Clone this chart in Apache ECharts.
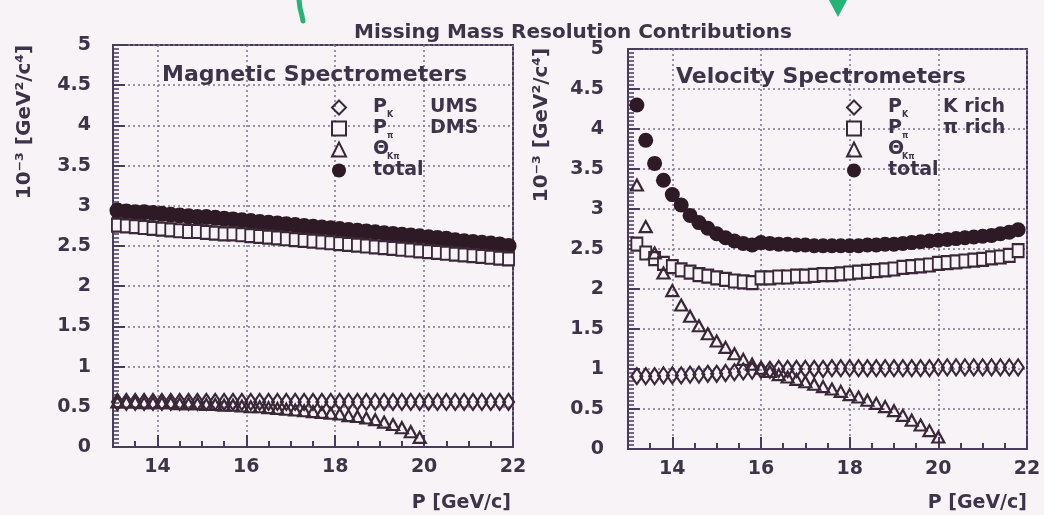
<!DOCTYPE html>
<html>
<head>
<meta charset="utf-8">
<script src="https://cdn.jsdelivr.net/npm/echarts@6/dist/echarts.min.js"></script>
<style>
html,body{margin:0;padding:0;background:#f7f3f6;}
#chart{width:1044px;height:515px;}
</style>
</head>
<body>
<div id="chart"></div>
<script>
// ---------- data ----------
const xTickLabels = [14, 16, 18, 20, 22];

// Magnetic spectrometers (left panel)
const xMag = [13.1,13.3,13.5,13.7,13.9,14.1,14.3,14.5,14.7,14.9,15.1,15.3,15.5,15.7,15.9,16.1,16.3,16.5,16.7,16.9,17.1,17.3,17.5,17.7,17.9,18.1,18.3,18.5,18.7,18.9,19.1,19.3,19.5,19.7,19.9,20.1,20.3,20.5,20.7,20.9,21.1,21.3,21.5,21.7,21.9];
const magTotal = [2.94,2.93,2.92,2.92,2.91,2.90,2.89,2.88,2.87,2.86,2.86,2.85,2.84,2.83,2.82,2.81,2.80,2.79,2.78,2.77,2.76,2.75,2.74,2.73,2.72,2.71,2.70,2.69,2.68,2.67,2.66,2.65,2.64,2.63,2.62,2.61,2.60,2.59,2.57,2.56,2.55,2.54,2.53,2.52,2.50];
const magPpiDMS = [2.76,2.75,2.74,2.73,2.72,2.71,2.70,2.69,2.68,2.68,2.67,2.66,2.65,2.65,2.64,2.63,2.62,2.61,2.60,2.59,2.58,2.57,2.56,2.55,2.54,2.53,2.52,2.51,2.50,2.49,2.48,2.47,2.46,2.45,2.44,2.43,2.42,2.41,2.40,2.39,2.38,2.37,2.36,2.35,2.34];
const magPkUMS = [0.56,0.56,0.56,0.56,0.56,0.56,0.56,0.56,0.56,0.56,0.56,0.56,0.56,0.56,0.56,0.56,0.56,0.56,0.56,0.56,0.56,0.56,0.56,0.56,0.56,0.56,0.56,0.56,0.56,0.56,0.56,0.56,0.56,0.56,0.56,0.56,0.56,0.56,0.56,0.56,0.56,0.56,0.56,0.56,0.56];
const magTheta = [0.56,0.56,0.56,0.55,0.55,0.55,0.55,0.54,0.54,0.54,0.53,0.53,0.52,0.52,0.51,0.50,0.50,0.49,0.48,0.47,0.46,0.45,0.44,0.43,0.42,0.41,0.39,0.38,0.36,0.34,0.31,0.28,0.24,0.19,0.12];

// Velocity spectrometers (right panel)
const xVel = [13.2,13.4,13.6,13.8,14.0,14.2,14.4,14.6,14.8,15.0,15.2,15.4,15.6,15.8,16.0,16.2,16.4,16.6,16.8,17.0,17.2,17.4,17.6,17.8,18.0,18.2,18.4,18.6,18.8,19.0,19.2,19.4,19.6,19.8,20.0,20.2,20.4,20.6,20.8,21.0,21.2,21.4,21.6,21.8];
const velTotal = [4.30,3.86,3.57,3.36,3.18,3.05,2.92,2.83,2.76,2.69,2.64,2.60,2.57,2.55,2.58,2.57,2.56,2.56,2.55,2.55,2.54,2.54,2.54,2.54,2.54,2.54,2.55,2.55,2.56,2.56,2.57,2.58,2.59,2.60,2.61,2.62,2.63,2.64,2.65,2.66,2.67,2.69,2.71,2.74];
const velPpiRich = [2.56,2.45,2.38,2.32,2.28,2.24,2.21,2.18,2.16,2.14,2.12,2.10,2.09,2.08,2.14,2.14,2.15,2.15,2.16,2.16,2.17,2.18,2.18,2.19,2.20,2.21,2.22,2.23,2.24,2.25,2.27,2.28,2.29,2.30,2.32,2.33,2.34,2.35,2.36,2.37,2.39,2.40,2.42,2.48];
const velPkRich = [0.91,0.91,0.91,0.92,0.92,0.92,0.93,0.93,0.94,0.94,0.95,0.96,0.97,0.98,0.99,0.99,1.00,1.00,1.00,1.00,1.00,1.00,1.01,1.01,1.01,1.01,1.01,1.01,1.01,1.01,1.01,1.01,1.01,1.01,1.02,1.02,1.02,1.02,1.02,1.02,1.02,1.02,1.02,1.02];
const velTheta = [3.30,2.78,2.45,2.20,1.98,1.80,1.66,1.54,1.44,1.35,1.27,1.19,1.12,1.06,1.01,0.97,0.93,0.90,0.87,0.84,0.81,0.78,0.75,0.72,0.68,0.65,0.61,0.57,0.53,0.48,0.42,0.36,0.30,0.23,0.15];

// ---------- style ----------
const BG = '#f7f3f6';
const FRAME = '#4a3c5c';
const TEXT = '#3e344a';
const GRIDC = '#7f7392';
const DARK = '#2e1a24';
const OPEN = '#3a2838';
const FONT = 'DejaVu Sans';

function zip(xs, ys) { return ys.map((v, i) => [xs[i], v]); }

const chart = echarts.init(document.getElementById('chart'), null, {renderer: 'canvas'});

function mainX(g) {
  return {
    type: 'value', gridIndex: g, min: 13, max: 22, position: 'bottom',
    axisLine: {show: true, onZero: false, lineStyle: {color: FRAME, width: 2}},
    axisTick: {show: true, inside: true, length: 12, customValues: xTickLabels, lineStyle: {color: FRAME, width: 2}},
    axisLabel: {show: true, customValues: xTickLabels, margin: 11, fontSize: 19, fontWeight: 'bold', color: TEXT, fontFamily: FONT},
    splitLine: {show: true, lineStyle: {type: [2, 3], color: GRIDC, width: 1.5}}
  };
}
function minorX(g) {
  return {
    type: 'value', gridIndex: g, min: 13, max: 22, interval: 0.5, position: 'bottom',
    axisLine: {show: false},
    axisTick: {show: true, inside: true, length: 6, lineStyle: {color: FRAME, width: 2}},
    axisLabel: {show: false},
    splitLine: {show: false}
  };
}
function yAx(g, margin) {
  return {
    type: 'value', gridIndex: g, min: 0, max: 5, interval: 0.5,
    axisLine: {show: true, onZero: false, lineStyle: {color: FRAME, width: 2}},
    axisTick: {show: true, inside: true, length: 12, lineStyle: {color: FRAME, width: 2}},
    minorTick: {show: true, splitNumber: 10, length: 6, lineStyle: {color: FRAME, width: 1.5}},
    axisLabel: {show: true, margin: margin, fontSize: 19, fontWeight: 'bold', color: TEXT, fontFamily: FONT},
    splitLine: {show: true, lineStyle: {type: [2, 3], color: GRIDC, width: 1.5}}
  };
}

const symTotalL = {symbol: 'circle', symbolSize: 16, itemStyle: {color: DARK, opacity: 1}};
const symTotalR = {symbol: 'circle', symbolSize: 15, itemStyle: {color: DARK, opacity: 1}};
const symSquare = {symbol: 'rect', symbolSize: [11, 13], itemStyle: {color: BG, borderColor: OPEN, borderWidth: 2, opacity: 1}};
const symDiamond = {symbol: 'diamond', symbolSize: [11, 16], itemStyle: {color: 'rgba(0,0,0,0)', borderColor: OPEN, borderWidth: 2.2, opacity: 1}};
const symTri = {symbol: 'triangle', symbolSize: [12, 11], itemStyle: {color: 'rgba(0,0,0,0)', borderColor: OPEN, borderWidth: 2.2, opacity: 1}};

function ser(name, xi, yi, data, sym, z) {
  return Object.assign({type: 'scatter', name: name, xAxisIndex: xi, yAxisIndex: yi, data: data, z: z, silent: true, animation: false}, sym);
}

const legendText = {
  'mPK': '{g|}{m|P}{s|K}{t|UMS}',
  'mPpi': '{g|}{m|P}{s|π}{t|DMS}',
  'mTh': '{g|}{m|Θ}{s|Kπ}',
  'mTot': '{g|}{t|total}',
  'vPK': '{g|}{m|P}{s2|K}{t|K rich}',
  'vPpi': '{g|}{m|P}{s2|π}{t|π rich}',
  'vTh': '{g|}{m|Θ}{s2|Kπ}',
  'vTot': '{g|}{t|total}'
};
const rich = {
  g: {width: 22},
  m: {fontSize: 19, fontWeight: 'bold', width: 14, lineHeight: 23, color: TEXT, fontFamily: FONT, verticalAlign: 'middle'},
  s: {fontSize: 8, fontWeight: 'bold', width: 43, lineHeight: 8, color: TEXT, fontFamily: FONT, verticalAlign: 'bottom'},
  s2: {fontSize: 8, fontWeight: 'bold', width: 41, lineHeight: 8, color: TEXT, fontFamily: FONT, verticalAlign: 'bottom'},
  t: {fontSize: 19, fontWeight: 'bold', lineHeight: 23, color: TEXT, fontFamily: FONT, verticalAlign: 'middle'}
};
function legendFor(left, names) {
  return {
    left: left, top: 93, orient: 'vertical', itemWidth: 14, itemHeight: 14, itemGap: 0,
    selectedMode: false, data: names,
    formatter: n => legendText[n],
    textStyle: {rich: rich, color: TEXT, fontFamily: FONT}
  };
}

const option = {
  backgroundColor: BG,
  animation: false,
  title: [
    {text: 'Missing Mass Resolution Contributions', left: 349, top: 18, textStyle: {fontSize: 20, fontWeight: 'bold', color: TEXT, fontFamily: FONT}},
    {text: 'Magnetic Spectrometers', left: 157, top: 59, textStyle: {fontSize: 22, fontWeight: 'bold', color: TEXT, fontFamily: FONT}},
    {text: 'Velocity Spectrometers', left: 671, top: 61, textStyle: {fontSize: 22, fontWeight: 'bold', color: TEXT, fontFamily: FONT}}
  ],
  grid: [
    {left: 113, top: 45, width: 400, height: 402, show: true, borderColor: FRAME, borderWidth: 2, backgroundColor: 'transparent'},
    {left: 628, top: 49, width: 399, height: 400, show: true, borderColor: FRAME, borderWidth: 2, backgroundColor: 'transparent'}
  ],
  xAxis: [mainX(0), minorX(0), mainX(1), minorX(1)],
  yAxis: [yAx(0, 22), yAx(1, 24)],
  legend: [
    legendFor(326, ['mPK', 'mPpi', 'mTh', 'mTot']),
    legendFor(841, ['vPK', 'vPpi', 'vTh', 'vTot'])
  ],
  series: [
    ser('mTot', 0, 0, zip(xMag, magTotal), symTotalL, 2),
    ser('mPpi', 0, 0, zip(xMag, magPpiDMS), symSquare, 3),
    ser('mPK', 0, 0, zip(xMag, magPkUMS), symDiamond, 4),
    ser('mTh', 0, 0, zip(xMag, magTheta), symTri, 5),
    ser('vTot', 2, 1, zip(xVel, velTotal), symTotalR, 2),
    ser('vPpi', 2, 1, zip(xVel, velPpiRich), symSquare, 3),
    ser('vPK', 2, 1, zip(xVel, velPkRich), symDiamond, 4),
    ser('vTh', 2, 1, zip(xVel, velTheta), symTri, 5)
  ],
  graphic: [
    {type: 'text', x: 25, y: 122, rotation: Math.PI / 2, style: {text: '10⁻³ [GeV²/c⁴]', fontSize: 20, fontWeight: 'bold', fill: TEXT, fontFamily: FONT, align: 'center', verticalAlign: 'middle'}},
    {type: 'text', x: 542, y: 125, rotation: Math.PI / 2, style: {text: '10⁻³ [GeV²/c⁴]', fontSize: 20, fontWeight: 'bold', fill: TEXT, fontFamily: FONT, align: 'center', verticalAlign: 'middle'}},
    {type: 'text', x: 511, y: 503, style: {text: 'P [GeV/c]', fontSize: 19, fontWeight: 'bold', fill: TEXT, fontFamily: FONT, align: 'right', verticalAlign: 'middle'}},
    {type: 'text', x: 1027, y: 503, style: {text: 'P [GeV/c]', fontSize: 19, fontWeight: 'bold', fill: TEXT, fontFamily: FONT, align: 'right', verticalAlign: 'middle'}},
    {type: 'polyline', shape: {points: [[299, 0], [300, 8], [302, 16], [303, 21]]}, style: {stroke: '#25b377', lineWidth: 5, lineCap: 'round'}},
    {type: 'polygon', shape: {points: [[829, 0], [847, 0], [838, 17]]}, style: {fill: '#25b377'}}
  ]
};
chart.setOption(option);
</script>
</body>
</html>
